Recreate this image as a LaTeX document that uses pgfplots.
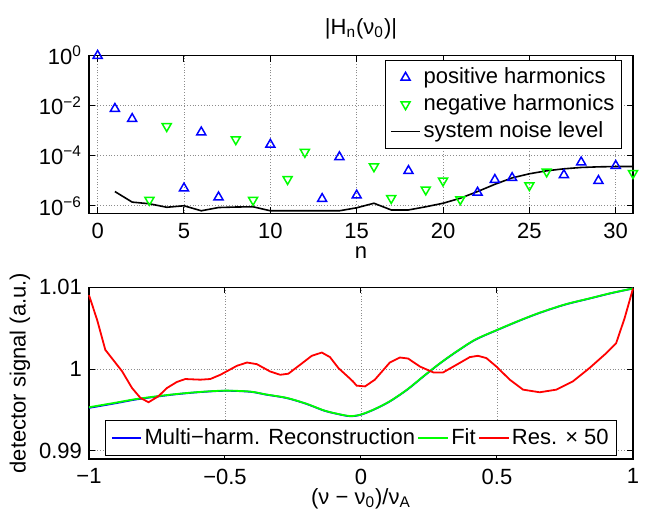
\documentclass[border=0pt]{standalone}
\usepackage{fontspec}
\setmainfont{Liberation Sans}
\usepackage{pgfplots}
\pgfplotsset{compat=1.18}

\pgfplotsset{
  mstyle/.style={
    scale only axis, width=272pt,
    font=\fontsize{11}{13}\selectfont,
    tick label style={font=\fontsize{11}{13}\selectfont},
    xticklabel style={yshift=-1.3pt},
    /pgf/number format/assume math mode=true,
    tick align=inside, major tick length=3pt,
    minor tick style={draw=none},
    grid=major, grid style={densely dotted, black!45, line width=0.4pt},
    axis line style={line width=0.6pt},
    every tick/.style={black, line width=0.5pt},
    clip=false,
    legend image code/.code={\draw[mark repeat=2,mark phase=2,##1]
      plot coordinates {(0cm,0cm) (0.26cm,0cm) (0.52cm,0cm)};},
  }
}

\begin{document}
\begin{tikzpicture}
\useasboundingbox (0,0) rectangle (322.5pt,259pt);

% top: harmonic amplitudes
\begin{axis}[mstyle, at={(44.5pt,152.35pt)}, anchor=south west, height=78.8pt,
  ymode=log, xmin=-0.5, xmax=31, ymin=5e-7, ymax=1,
  xtick={0,5,...,30},
  ytick={1,1e-2,1e-4,1e-6},
  yticklabels={10\textsuperscript{0},10\textsuperscript{−2},10\textsuperscript{−4},10\textsuperscript{−6}},
  xlabel={n},
  xlabel style={at={(axis description cs:0.5,-0.29)}, anchor=base},
  title={|H\textsubscript{n}(ν\textsubscript{0})|},
  title style={at={(axis description cs:0.5,1.135)}, anchor=base, yshift=-6pt},
  legend style={at={(0.98,0.975)}, anchor=north east, draw=black, inner xsep=2.5pt,
    nodes={inner xsep=1.2pt},
    font=\fontsize{11}{13}\selectfont, cells={anchor=west}}]
\addplot[only marks, blue, mark=triangle, mark size=2.6pt, mark options={line width=0.75pt}]
  coordinates {(0,1) (1,7.6e-3) (2,3.0e-3) (5,5.0e-6) (6,8.7e-4) (7,2.2e-6)
  (10,2.8e-4) (13,1.9e-6) (14,8.9e-5) (15,2.6e-6) (18,2.5e-5) (22,3.4e-6)
  (23,1.1e-5) (24,1.3e-5) (27,1.7e-5) (28,5.5e-5) (29,1.0e-5) (30,4.0e-5)};
\addlegendentry{positive harmonics}
\addplot[only marks, green, mark=triangle, mark size=2.6pt, mark options={rotate=180, line width=0.75pt}]
  coordinates {(3,1.7e-6) (4,1.5e-3) (8,4.5e-4) (9,1.7e-6) (11,1.15e-5) (12,1.4e-4)
  (16,3.7e-5) (17,2.0e-6) (19,4.4e-6) (20,1.0e-5) (21,1.8e-6) (25,6.5e-6)
  (26,2.3e-5) (31,2.0e-5)};
\addlegendentry{negative harmonics}
\addplot[black, line width=0.8pt]
  coordinates {(1,3.7e-6) (2,1.4e-6) (3,1.2e-6) (4,8.7e-7) (5,1.0e-6) (6,6.3e-7)
  (7,8.5e-7) (8,8.9e-7) (9,9.1e-7) (10,6.3e-7) (11,6.3e-7) (12,6.3e-7) (13,6.3e-7)
  (14,6.3e-7) (15,8.3e-7) (16,1.26e-6) (17,6.8e-7) (18,6.8e-7) (19,9.1e-7)
  (20,1.26e-6) (21,2.0e-6) (22,3.7e-6) (23,7.2e-6) (24,1.3e-5) (25,1.9e-5)
  (26,2.5e-5) (27,3.0e-5) (28,3.4e-5) (29,3.6e-5) (30,3.7e-5) (31,3.7e-5)};
\addlegendentry{system noise level}
\end{axis}

% bottom: detector signal
\begin{axis}[mstyle, at={(44.5pt,29.5pt)}, anchor=south west, height=85.85pt,
  xmin=-1, xmax=1, ymin=0.989, ymax=1.01,
  xtick={-1,-0.5,0,0.5,1}, xticklabels={−1,−0.5,0,0.5,1},
  ytick={0.99,1,1.01}, yticklabels={0.99,1,1.01},
  xlabel={(ν − ν\textsubscript{0})/ν\textsubscript{A}},
  xlabel style={at={(axis description cs:0.5,-0.263)}, anchor=base},
  ylabel={detector signal (a.u.)},
  ylabel style={at={(axis description cs:-0.127,0.5)}, anchor=center},
  legend columns=3,
  legend style={at={(0.5,0.018)}, anchor=south, draw=black, inner xsep=2.5pt,
    nodes={inner xsep=1.2pt},
    font=\fontsize{11}{13}\selectfont}]
\addplot[blue, line width=0.9pt, smooth]
  coordinates {(-1,0.99525) (-0.9,0.99583) (-0.823,0.9963) (-0.7,0.99684) (-0.6,0.99716)
  (-0.5,0.99734) (-0.407,0.99722) (-0.35,0.99688) (-0.273,0.99645) (-0.2,0.99573)
  (-0.138,0.99494) (-0.09,0.99453) (-0.04,0.99423) (0,0.99442) (0.05,0.99508)
  (0.106,0.99604) (0.17,0.99748) (0.229,0.99908) (0.29,1.00068) (0.351,1.00212)
  (0.42,1.00358) (0.5,1.00476) (0.58,1.00588) (0.657,1.00687) (0.75,1.00788)
  (0.84,1.00862) (0.92,1.00928) (1,1.00985)};
\addlegendentry{Multi−harm. Reconstruction}
\addplot[green, line width=0.9pt, smooth]
  coordinates {(-1,0.99533) (-0.9,0.9959) (-0.823,0.99635) (-0.7,0.99687) (-0.6,0.99718)
  (-0.5,0.99736) (-0.407,0.99724) (-0.35,0.9969) (-0.273,0.99647) (-0.2,0.99575)
  (-0.138,0.99496) (-0.09,0.99455) (-0.04,0.99425) (0,0.99444) (0.05,0.9951)
  (0.106,0.99606) (0.17,0.9975) (0.229,0.9991) (0.29,1.0007) (0.351,1.00214)
  (0.42,1.0036) (0.5,1.00478) (0.58,1.0059) (0.657,1.00689) (0.75,1.0079)
  (0.84,1.00864) (0.92,1.0093) (1,1.00985)};
\addlegendentry{Fit}
\addplot[red, line width=0.9pt]
  coordinates {(-1,1.00904) (-0.97,1.0060) (-0.94,1.00235) (-0.878,0.99971)
  (-0.842,0.99769) (-0.811,0.99647) (-0.781,0.99594) (-0.745,0.99667) (-0.713,0.99769)
  (-0.677,0.99842) (-0.646,0.99878) (-0.591,0.9987) (-0.554,0.99878) (-0.517,0.9993)
  (-0.456,1.0004) (-0.419,1.0008) (-0.383,1.0006) (-0.334,0.9997) (-0.297,0.9993)
  (-0.267,0.99943) (-0.224,1.00052) (-0.181,1.00162) (-0.144,1.00202) (-0.114,1.00146)
  (-0.083,1.00012) (-0.047,0.99903) (-0.03,0.9985) (-0.016,0.99797) (0.015,0.99788)
  (0.051,0.9987) (0.106,1.0008) (0.143,1.00141) (0.173,1.00129) (0.217,1.0003)
  (0.266,0.99959) (0.302,0.99959) (0.351,1.00052) (0.4,1.00146) (0.43,1.00162)
  (0.461,1.00134) (0.498,1.0003) (0.547,0.9987) (0.596,0.99748) (0.657,0.99716)
  (0.718,0.99748) (0.779,0.99849) (0.84,1.00012) (0.902,1.00195) (0.938,1.00316)
  (0.969,1.0062) (0.988,1.00843) (1,1.00985)};
\addlegendentry{Res. × 50}
\end{axis}
\end{tikzpicture}
\end{document}
